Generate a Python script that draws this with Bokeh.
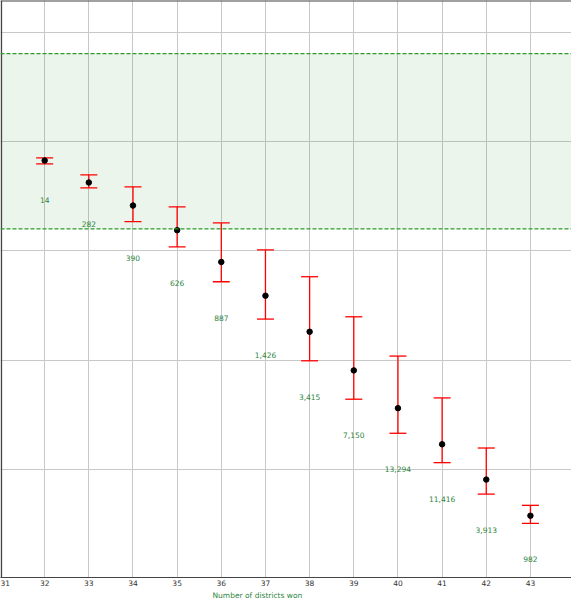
from bokeh.plotting import figure
from bokeh.models import (ColumnDataSource, Whisker, TeeHead, FixedTicker,
                          BoxAnnotation, Span, Title)
from bokeh.core.properties import value
from bokeh.embed import file_html
from bokeh.resources import INLINE

# ---- data ----
districts = [32, 33, 34, 35, 36, 37, 38, 39, 40, 41, 42, 43]
mean_decl = [0.0828, 0.0627, 0.0416, 0.0190, -0.0101, -0.0410,
             -0.0740, -0.1094, -0.1440, -0.1771, -0.2094, -0.2425]
upper_decl = [0.0853, 0.0697, 0.0587, 0.0404, 0.0257, 0.0009,
              -0.0236, -0.0603, -0.0963, -0.1346, -0.1805, -0.2330]
lower_decl = [0.0798, 0.0578, 0.0269, 0.0037, -0.0282, -0.0624,
              -0.1006, -0.1358, -0.1670, -0.1939, -0.2227, -0.2495]
plan_counts = ["14", "282", "390", "626", "887", "1,426", "3,415",
               "7,150", "13,294", "11,416", "3,913", "982"]
band_low = 0.0202
band_high = 0.1807
x_ticks = [31, 32, 33, 34, 35, 36, 37, 38, 39, 40, 41, 42, 43, 44]
y_ticks = [-0.3, -0.2, -0.1, 0.0, 0.1, 0.2]

X_START, X_END = 31, 43.93
Y_START, Y_END = -0.2991, 0.2294

GREEN = "#2e8540"
LABEL_DROP = 0.033  # label sits below lower error bound

src = ColumnDataSource(dict(
    x=districts, y=mean_decl, upper=upper_decl, lower=lower_decl,
    label=plan_counts,
    label_y=[l - LABEL_DROP for l in lower_decl],
))

p = figure(width=571, height=599, output_backend="svg", toolbar_location=None,
           x_range=(X_START, X_END), y_range=(Y_START, Y_END),
           min_border_left=0, min_border_right=0, min_border_top=0,
           min_border_bottom=0)

p.background_fill_color = "white"
p.border_fill_color = "white"
p.outline_line_color = None

# grid
p.xaxis.ticker = FixedTicker(ticks=x_ticks)
p.yaxis.ticker = FixedTicker(ticks=y_ticks)
p.xgrid.grid_line_color = "#c8c8c8"
p.ygrid.grid_line_color = "#c8c8c8"
p.xgrid.grid_line_width = 1
p.ygrid.grid_line_width = 1

# axes
p.yaxis.visible = False
p.xaxis.axis_line_color = "#444444"
p.xaxis.major_tick_line_color = None
p.xaxis.minor_tick_line_color = None
p.xaxis.major_tick_out = 0
p.xaxis.major_tick_in = 0
p.xaxis.minor_tick_out = 0
p.xaxis.minor_tick_in = 0
p.xaxis.major_label_text_font = "DejaVu Sans"
p.xaxis.major_label_text_font_size = "7.5px"
p.xaxis.major_label_text_color = "#333333"
p.xaxis.major_label_standoff = 2

p.add_layout(Title(text="Number of districts won", align="left", offset=212,
                   text_font="DejaVu Sans", text_font_size="7.5px",
                   text_font_style="normal", text_color=GREEN,
                   standoff=0), "below")

# left and top spines (right spine lies off the page in the reference)
p.add_layout(Span(location=X_START + 0.02, dimension="height",
                  line_color="#444444", line_width=1.5))
p.add_layout(Span(location=Y_END, dimension="width",
                  line_color="#444444", line_width=2))

# shaded band
band = BoxAnnotation(bottom=band_low, top=band_high, fill_color="green",
                     fill_alpha=0.08, line_color=None, level="underlay")
p.add_layout(band)
for loc in (band_low, band_high):
    p.add_layout(Span(location=loc, dimension="width", line_color="#2a9a2a",
                      line_dash="4 2", line_width=1.2))

# error bars
wh = Whisker(source=src, base="x", upper="upper", lower="lower",
             line_color="red", line_width=1.3,
             upper_head=TeeHead(size=17, line_color="red", line_width=1.3),
             lower_head=TeeHead(size=17, line_color="red", line_width=1.3))
p.add_layout(wh)

p.scatter("x", "y", source=src, size=5.5, color="black")

p.text("x", "label_y", text="label", source=src, text_align="center",
       text_baseline="middle", text_color=GREEN,
       text_font=value("DejaVu Sans"), text_font_size="7.5px")

open("out.html", "w").write(file_html(p, INLINE))
